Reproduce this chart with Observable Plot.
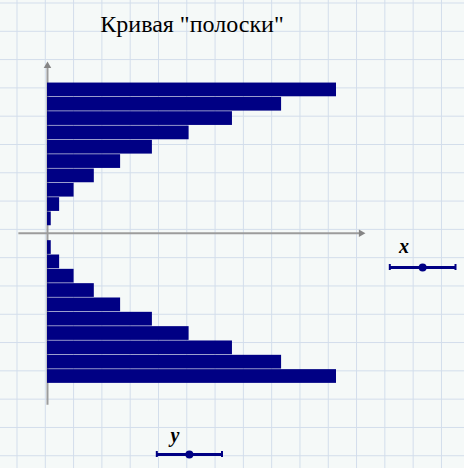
<!DOCTYPE html>
<html>
<head>
<meta charset="utf-8">
<script src="https://cdn.jsdelivr.net/npm/d3@7"></script>
<script src="https://cdn.jsdelivr.net/npm/@observablehq/plot@0.6"></script>
<style>
  html, body { margin: 0; padding: 0; }
  #page {
    position: relative; width: 464px; height: 468px; overflow: hidden;
    background-color: #f5f9f8;
    background-image:
      linear-gradient(to right, #d2ddeb 1px, transparent 1px),
      linear-gradient(to bottom, #d2ddeb 1px, transparent 1px);
    background-size: 28.3px 28.3px;
    background-position: 16.5px 2.5px;
  }
  #title {
    position: absolute; left: 0; top: 11.5px; width: 384px; text-align: center;
    font-family: "Liberation Serif", "DejaVu Serif", serif; font-size: 24px; line-height: 24px; color: #000;
  }
  .lbl {
    position: absolute; width: 40px; text-align: center;
    font-family: "Liberation Serif", serif; font-style: italic; font-weight: bold;
    font-size: 20px; line-height: 20px; color: #000;
  }
  #chart { position: absolute; left: 0; top: 0; }
  .slider { position: absolute; }
  svg { background: transparent !important; }
</style>
</head>
<body>
<div id="page">
  <div id="chart"></div>
  <div id="title">Кривая "полоски"</div>
  <div class="lbl" style="left:384px; top:236px;">x</div>
  <div class="lbl" style="left:155px; top:425px;">y</div>
  <div class="slider" id="sx" style="left:386px; top:260px;"></div>
  <div class="slider" id="sy" style="left:152.5px; top:446.5px;"></div>
</div>
<script>
// Bar levels (y) and lengths (x)
const upperLevels  = [1, 2, 3, 4, 5, 6, 7, 8, 9, 10];
const upperLengths = [1.3, 4.2, 9.2, 16.2, 25.3, 36.3, 49, 64, 81, 100];
const lowerLevels  = [-1, -2, -3, -4, -5, -6, -7, -8, -9, -10];
const lowerLengths = [1.3, 4.2, 9.2, 16.2, 25.3, 36.3, 49, 64, 81, 100];

// Axis extents (data units)
const xAxisExtent = [-9.9, 108.4];
const yAxisExtent = [-12.0, 11.7];
const xArrowTip = [108.5];
const yArrowTip = [11.68];

// Slider values (0..1)
const sliderX = [0.5];
const sliderY = [0.5];

const bars = [
  ...upperLevels.map((y, i) => ({y, len: upperLengths[i]})),
  ...lowerLevels.map((y, i) => ({y, len: lowerLengths[i]}))
];

const axisColor = "#9c9c9c";
const navy = "#000084";

const chart = Plot.plot({
  width: 464, height: 468,
  marginTop: 0, marginRight: 0, marginBottom: 0, marginLeft: 0,
  x: {domain: [-16.26, 144.29], axis: null},
  y: {domain: [-16.42, 16.24], axis: null},
  style: {background: "transparent", overflow: "visible"},
  marks: [
    Plot.ruleY([0], {x1: xAxisExtent[0], x2: xAxisExtent[1], stroke: axisColor, strokeWidth: 2}),
    Plot.ruleX([0], {y1: yAxisExtent[0], y2: yAxisExtent[1], stroke: axisColor, strokeWidth: 2}),
    Plot.dot(xArrowTip, {x: d => d, y: 0, symbol: "triangle", rotate: 90, r: 2.8, fill: "#858585", stroke: "none"}),
    Plot.dot(yArrowTip, {x: 0, y: d => d, symbol: "triangle", r: 2.8, fill: "#858585", stroke: "none"}),
    Plot.rectX(bars, {
      x1: 0, x2: "len",
      y1: d => d.y - 0.5, y2: d => d.y + 0.5,
      fill: navy, insetTop: 0.3, insetBottom: 0.3
    })
  ]
});
document.getElementById("chart").append(chart);

function slider(values, w) {
  return Plot.plot({
    width: w, height: 14,
    marginTop: 4, marginBottom: 4, marginLeft: 3.3, marginRight: 3,
    x: {domain: [0, 1], axis: null},
    y: {domain: [-1, 1], axis: null},
    style: {background: "transparent", overflow: "visible"},
    marks: [
      Plot.ruleY([0], {x1: 0, x2: 1, stroke: navy, strokeWidth: 3}),
      Plot.tickX([0, 1], {x: d => d, stroke: navy, strokeWidth: 2}),
      Plot.dot(values, {x: d => d, y: 0, r: 4, fill: navy, stroke: "none"})
    ]
  });
}
document.getElementById("sx").append(slider(sliderX, 72));
document.getElementById("sy").append(slider(sliderY, 71.5));
</script>
</body>
</html>
